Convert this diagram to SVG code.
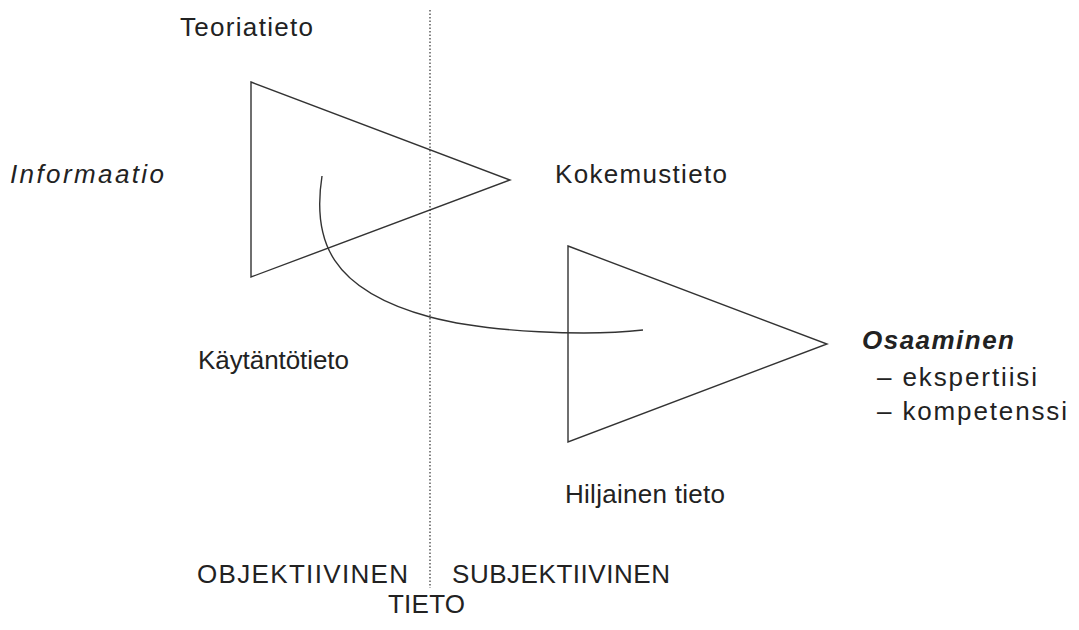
<svg xmlns="http://www.w3.org/2000/svg" width="1079" height="630" viewBox="0 0 1079 630">
  <style>
    .t { font-family: "Liberation Sans", Arial, sans-serif; font-size: 26px; fill: #222; }
    .it { font-style: italic; }
    .bi { font-style: italic; font-weight: bold; }
    .shape { fill: none; stroke: #333; stroke-width: 1.4; }
    .divider { fill: none; stroke: #333; stroke-width: 1.2; stroke-dasharray: 1.5 2; }
  </style>
  <rect width="1079" height="630" fill="#fff"/>

  <!-- vertical divider between objective and subjective knowledge -->
  <line class="divider" x1="430" y1="10" x2="430" y2="588"/>

  <g id="knowledge-triangle">
    <polygon class="shape" points="251,82 510,180 251,277"/>
  </g>

  <g id="competence-triangle">
    <polygon class="shape" points="568,246 827,344 568,442"/>
  </g>

  <g id="connectors">
    <path class="shape" d="M322,176 C312,240 330,290 430,317 C490,333 590,336 643,330"/>
  </g>

  <g id="labels">
    <text class="t" x="180" y="36" textLength="133">Teoriatieto</text>
    <text class="t it" x="10" y="183" textLength="154">Informaatio</text>
    <text class="t" x="555" y="183" textLength="172">Kokemustieto</text>
    <text class="t" x="198" y="369" textLength="151">Käytäntötieto</text>
    <text class="t bi" x="862" y="349" textLength="152">Osaaminen</text>
    <text class="t" x="877" y="386" textLength="160">– ekspertiisi</text>
    <text class="t" x="877" y="420" textLength="190">– kompetenssi</text>
    <text class="t" x="565" y="503" textLength="160">Hiljainen tieto</text>
    <text class="t" x="197" y="583" textLength="211">OBJEKTIIVINEN</text>
    <text class="t" x="452" y="583" textLength="218">SUBJEKTIIVINEN</text>
    <text class="t" x="388" y="613" textLength="77">TIETO</text>
  </g>
</svg>
